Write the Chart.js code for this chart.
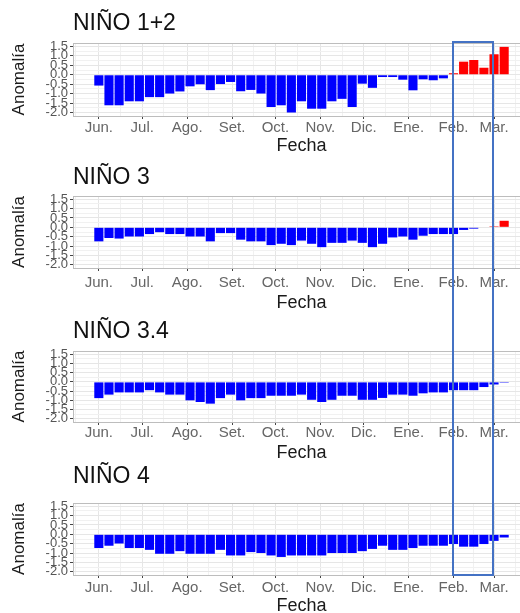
<!DOCTYPE html>
<html>
<head>
<meta charset="utf-8">
<script src="https://cdn.jsdelivr.net/npm/chart.js@4.4.0/dist/chart.umd.min.js"></script>
<style>
  body { margin: 0; width: 520px; height: 613px; overflow: hidden; background: #fff; position: relative; }
  .panel { position: absolute; left: 0; width: 530px; }
  #marco { position: absolute; border: 2px solid #4472c4; box-sizing: border-box; pointer-events: none; }
</style>
</head>
<body>
<div class="panel" id="p0"><canvas id="c0"></canvas></div>
<div class="panel" id="p1"><canvas id="c1"></canvas></div>
<div class="panel" id="p2"><canvas id="c2"></canvas></div>
<div class="panel" id="p3"><canvas id="c3"></canvas></div>
<div id="marco"></div>
<script>
// semanas (centro de cada barra)
const fechas = [
  '2022-06-01','2022-06-08','2022-06-15','2022-06-22','2022-06-29',
  '2022-07-06','2022-07-13','2022-07-20','2022-07-27',
  '2022-08-03','2022-08-10','2022-08-17','2022-08-24','2022-08-31',
  '2022-09-07','2022-09-14','2022-09-21','2022-09-28',
  '2022-10-05','2022-10-12','2022-10-19','2022-10-26',
  '2022-11-02','2022-11-09','2022-11-16','2022-11-23','2022-11-30',
  '2022-12-07','2022-12-14','2022-12-21','2022-12-28',
  '2023-01-04','2023-01-11','2023-01-18','2023-01-25',
  '2023-02-01','2023-02-08','2023-02-15','2023-02-22',
  '2023-03-01','2023-03-08'
];

const nino12 = [-0.57,-1.61,-1.61,-1.40,-1.40,-1.18,-1.18,-0.99,-0.88,-0.61,-0.50,-0.81,-0.49,-0.38,
  -0.87,-0.80,-0.99,-1.70,-1.61,-1.99,-1.40,-1.79,-1.79,-1.40,-1.27,-1.70,-0.47,-0.69,-0.12,-0.12,
  -0.26,-0.82,-0.24,-0.29,-0.19,0.08,0.69,0.78,0.37,1.08,1.47];
const nino3 = [-0.75,-0.57,-0.60,-0.49,-0.49,-0.36,-0.26,-0.36,-0.36,-0.49,-0.49,-0.75,-0.31,-0.31,
  -0.66,-0.75,-0.75,-0.95,-0.88,-0.95,-0.71,-0.88,-1.06,-0.83,-0.83,-0.71,-0.83,-1.06,-0.88,-0.54,
  -0.49,-0.66,-0.45,-0.36,-0.36,-0.36,-0.14,-0.07,null,0.05,0.35];
const nino34 = [-0.88,-0.69,-0.57,-0.57,-0.57,-0.45,-0.57,-0.69,-0.69,-1.00,-1.09,-1.18,-0.88,-0.69,
  -1.00,-0.88,-0.88,-0.75,-0.75,-0.75,-0.69,-0.97,-1.09,-0.97,-0.75,-0.75,-0.97,-0.97,-0.87,-0.69,
  -0.69,-0.75,-0.62,-0.57,-0.57,-0.45,-0.45,-0.45,-0.28,-0.14,-0.05];
const nino4 = [-0.73,-0.61,-0.49,-0.73,-0.73,-0.83,-1.04,-1.04,-0.90,-1.04,-1.04,-1.04,-0.83,-1.13,
  -1.13,-0.95,-1.00,-1.13,-1.21,-1.13,-1.13,-1.13,-1.13,-1.00,-1.00,-1.00,-0.90,-0.78,-0.61,-0.83,
  -0.83,-0.73,-0.61,-0.61,-0.61,-0.52,-0.66,-0.66,-0.52,-0.35,-0.17];

const titulos = ['NIÑO 1+2', 'NIÑO 3', 'NIÑO 3.4', 'NIÑO 4'];
const series = [nino12, nino3, nino34, nino4];

const meses = ['Jun.','Jul.','Ago.','Set.','Oct.','Nov.','Dic.','Ene.','Feb.','Mar.'];
const mesesFechas = ['2022-06-01','2022-07-01','2022-08-01','2022-09-01','2022-10-01',
  '2022-11-01','2022-12-01','2023-01-01','2023-02-01','2023-03-01'];
const mediosFechas = ['2022-05-16','2022-06-16','2022-07-16','2022-08-16','2022-09-16','2022-10-16',
  '2022-11-16','2022-12-16','2023-01-16','2023-02-15','2023-03-16'];
const yTicks = [1.5, 1.0, 0.5, 0.0, -0.5, -1.0, -1.5, -2.0];
const yMenores = [1.25, 0.75, 0.25, -0.25, -0.75, -1.25, -1.75];
const yLim = [-2, 1.5];
const resaltado = ['2023-02-01', '2023-03-01'];

// posiciones de cada panel (px)
const paneles = [
  { top: 0,   alto: 155, tituloAbajo: 5.2,  pTicks: 1, pFecha: 1 },
  { top: 154, alto: 158, tituloAbajo: 4.2,  pTicks: 4, pFecha: 0 },
  { top: 308, alto: 154, tituloAbajo: 5.2,  pTicks: 0, pFecha: 4 },
  { top: 453, alto: 162, tituloAbajo: 12.2, pTicks: 2, pFecha: 0 }
];

Chart.defaults.font.family = "'Liberation Sans', Arial, sans-serif";

const dia = f => (Date.parse(f) - Date.parse(fechas[0])) / 864e5;
const izqDatos = dia(fechas[0]) - 3.5, derDatos = dia(fechas[fechas.length - 1]) + 3.5;
const ancho = derDatos - izqDatos;
const xMin = izqDatos - 0.05 * ancho, xMax = derDatos + 0.05 * ancho;
const yMin = yLim[0] - 0.05 * (yLim[1] - yLim[0]), yMax = yLim[1] + 0.05 * (yLim[1] - yLim[0]);

const gridMayor = '#e6e6e6', gridMenor = '#f1f1f1', borde = '#bdbdbd';

function crearPanel(i) {
  const p = paneles[i];
  const wrap = document.getElementById('p' + i);
  wrap.style.top = p.top + 'px';
  wrap.style.height = p.alto + 'px';
  const valores = series[i];
  return new Chart(document.getElementById('c' + i), {
    type: 'bar',
    data: {
      datasets: [{
        data: fechas.map((f, k) => ({ x: dia(f), y: valores[k] })),
        backgroundColor: c => (c.raw && c.raw.y > 0) ? '#ff0000' : '#0000ff',
        barPercentage: 0.9,
        categoryPercentage: 1
      }]
    },
    options: {
      responsive: true,
      maintainAspectRatio: false,
      animation: false,
      layout: { padding: 0 },
      plugins: {
        legend: { display: false },
        tooltip: { enabled: false },
        title: {
          display: true, text: titulos[i], align: 'start', fullSize: false,
          color: '#111', font: { size: 23, weight: 'normal' },
          padding: { top: 10.2, bottom: p.tituloAbajo }
        }
      },
      scales: {
        x: {
          type: 'linear', min: xMin, max: xMax, offset: false,
          afterBuildTicks: s => { s.ticks = mesesFechas.map(f => ({ value: dia(f) })); },
          ticks: {
            autoSkip: false, maxRotation: 0, padding: p.pTicks, color: '#666',
            font: { size: 15, lineHeight: 1 },
            callback: (v, idx) => meses[idx]
          },
          grid: { offset: false, color: gridMayor, tickColor: '#444', tickLength: 3 },
          border: { color: borde },
          title: {
            display: true, text: 'Fecha', color: '#1a1a1a',
            font: { size: 18, lineHeight: 1 }, padding: { top: p.pFecha, bottom: 0 }
          }
        },
        x2: {
          type: 'linear', position: 'top', min: xMin, max: xMax, offset: false,
          afterBuildTicks: s => { s.ticks = mediosFechas.map(f => ({ value: dia(f) })); },
          ticks: { display: false },
          grid: { offset: false, color: gridMenor, drawTicks: false },
          border: { color: borde }
        },
        y: {
          type: 'linear', min: yMin, max: yMax,
          afterBuildTicks: s => { s.ticks = yTicks.map(v => ({ value: v })); },
          afterFit: s => { s.width = 73; },
          ticks: {
            autoSkip: false, padding: 2, color: '#555', font: { size: 13 },
            callback: v => v.toFixed(1)
          },
          grid: { color: gridMayor, tickColor: '#444', tickLength: 3 },
          border: { color: borde },
          title: {
            display: true, text: 'Anomalía', color: '#1a1a1a',
            font: { size: 17 }, padding: { top: 9, bottom: 0 }
          }
        },
        y2: {
          type: 'linear', position: 'right', min: yMin, max: yMax,
          afterBuildTicks: s => { s.ticks = yMenores.map(v => ({ value: v })); },
          ticks: { display: false },
          grid: { color: gridMenor, drawTicks: false },
          border: { display: false }
        }
      }
    }
  });
}

const charts = [0, 1, 2, 3].map(crearPanel);

// recuadro azul sobre febrero
const xa = charts[0].scales.x;
const izq = xa.getPixelForValue(dia(resaltado[0]));
const der = xa.getPixelForValue(dia(resaltado[1]));
const arriba = paneles[0].top + charts[0].chartArea.top - 2;
const abajo = paneles[3].top + charts[3].chartArea.bottom + 1;
const marco = document.getElementById('marco');
marco.style.left = (izq - 1.5) + 'px';
marco.style.width = (der - izq + 1) + 'px';
marco.style.top = arriba + 'px';
marco.style.height = (abajo - arriba) + 'px';
</script>
</body>
</html>
